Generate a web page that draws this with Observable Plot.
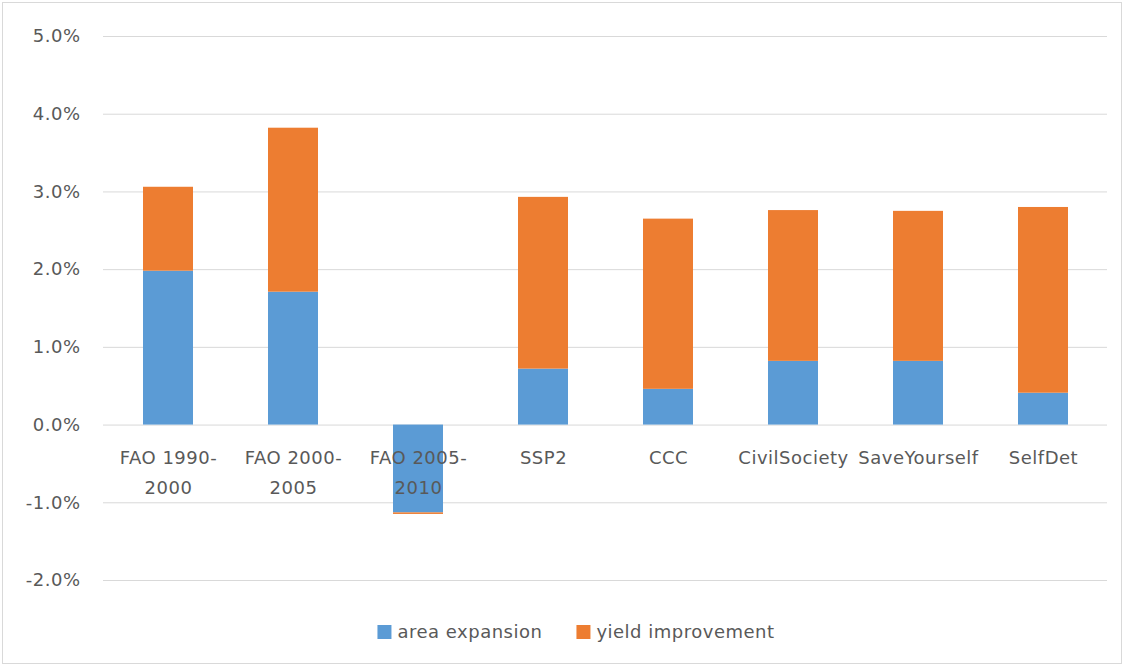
<!DOCTYPE html>
<html>
<head>
<meta charset="utf-8">
<script src="https://cdn.jsdelivr.net/npm/d3@7"></script>
<script src="https://cdn.jsdelivr.net/npm/@observablehq/plot@0.6"></script>
<style>
  html, body { margin: 0; padding: 0; background: #fff; }
  body { width: 1124px; height: 666px; position: relative; overflow: hidden; font-family: "DejaVu Sans", sans-serif; }
  #frame { position: absolute; left: 2px; top: 2px; width: 1118px; height: 660px; border: 1px solid #d9d9d9; box-sizing: content-box; pointer-events: none; }
  #chart { position: absolute; left: 0; top: 0; }
  #legend { position: absolute; top: 621px; left: 576px; transform: translateX(-50%); display: flex; align-items: center; gap: 34px; color: #595959; font-size: 18px; letter-spacing: 0.5px; white-space: nowrap; }
  .item { display: flex; align-items: center; gap: 6px; }
  .sw { width: 14px; height: 14px; display: inline-block; }
</style>
</head>
<body>
<div id="chart"></div>
<div id="legend"></div>
<div id="frame"></div>
<script>
const categories = ["FAO 1990-2000", "FAO 2000-2005", "FAO 2005-2010", "SSP2", "CCC", "CivilSociety", "SaveYourself", "SelfDet"];
const areaExpansion = [0.0198, 0.0171, -0.0113, 0.0072, 0.0046, 0.0082, 0.0082, 0.0041];
const yieldImprovement = [0.0108, 0.0211, -0.0002, 0.0221, 0.0219, 0.0194, 0.0193, 0.0239];
const seriesNames = ["area expansion", "yield improvement"];
const seriesColors = ["#5B9BD5", "#ED7D31"];
const yTicks = [-0.02, -0.01, 0, 0.01, 0.02, 0.03, 0.04, 0.05];

const rows = [];
categories.forEach((c, i) => {
  rows.push({category: c, series: seriesNames[0], value: areaExpansion[i]});
  rows.push({category: c, series: seriesNames[1], value: yieldImprovement[i]});
});

const fmtPct = d => (d * 100).toFixed(1) + "%";
const wrapLabel = d => d.includes("-") ? d.replace("-", "-\n") : d;

const chart = Plot.plot({
  width: 1124,
  height: 600,
  marginTop: 36,
  marginBottom: 20,
  marginLeft: 103,
  marginRight: 17,
  style: {fontFamily: "DejaVu Sans, sans-serif", color: "#595959", background: "transparent"},
  x: {domain: categories, paddingInner: 0.6, paddingOuter: 0.3, axis: null},
  y: {domain: [-0.02, 0.05], axis: null},
  color: {domain: seriesNames, range: seriesColors},
  marks: [
    Plot.ruleY(yTicks, {stroke: "#d9d9d9", strokeWidth: 1}),
    Plot.barY(rows, Plot.stackY({order: seriesNames}, {x: "category", y: "value", fill: "series", z: "series"})),
    Plot.axisY({ticks: yTicks, tickFormat: fmtPct, tickSize: 0, tickPadding: 23, fontSize: 18, fill: "#595959", label: null}),
    Plot.text(categories, {x: d => d, y: () => 0, text: wrapLabel, dy: 18, lineAnchor: "top", lineHeight: 1.67, fontSize: 18, fill: "#595959"})
  ]
});
chart.style.letterSpacing = "0.5px";
document.getElementById("chart").appendChild(chart);

const legend = document.getElementById("legend");
seriesNames.forEach((name, i) => {
  const item = document.createElement("div");
  item.className = "item";
  const sw = document.createElement("span");
  sw.className = "sw";
  sw.style.background = seriesColors[i];
  const label = document.createElement("span");
  label.textContent = name;
  item.appendChild(sw);
  item.appendChild(label);
  legend.appendChild(item);
});
</script>
</body>
</html>
